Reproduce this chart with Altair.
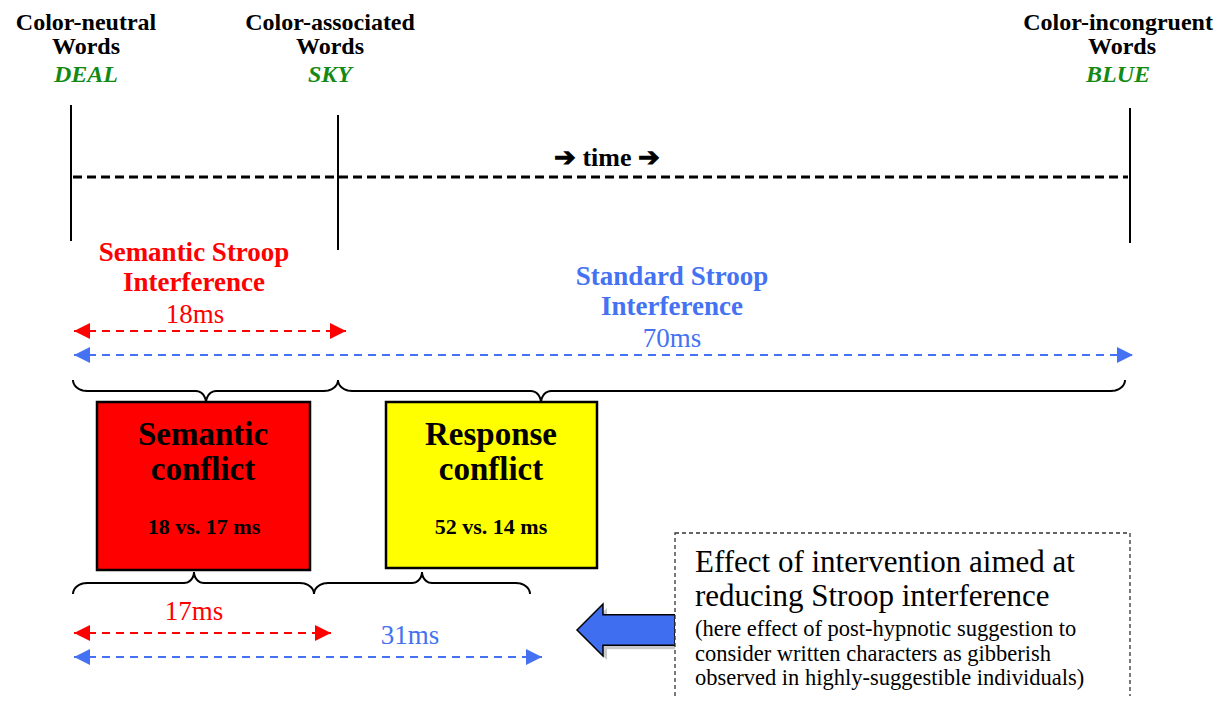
import math
import altair as alt
import pandas as pd

# ---------------- content (values & texts) ----------------
word_types = ["Color-neutral", "Color-associated", "Color-incongruent"]
word_examples = ["DEAL", "SKY", "BLUE"]
interference_titles = [["Semantic Stroop", "Interference"], ["Standard Stroop", "Interference"]]
interference_ms = [18, 70]          # before intervention
after_ms = [17, 31]                 # after intervention
conflict_titles = [["Semantic", "conflict"], ["Response", "conflict"]]
conflict_before = [18, 52]
conflict_after = [17, 14]
note_big = ["Effect of intervention aimed at", "reducing Stroop interference"]
note_small = ["(here effect of post-hypnotic suggestion to",
              "consider written characters as gibberish",
              "observed in highly-suggestible individuals)"]

# ---------------- layout (pixel space of the page) ----------------
W, H = 1214, 688
xs = alt.Scale(domain=[8, 8 + W], nice=False, zero=False)
ys = alt.Scale(domain=[8, 8 + H], nice=False, zero=False, reverse=True)

RED = "#ff0000"
BLUE = "#4472f2"
GREEN = "#138a13"
FONT = "Liberation Serif"

word_x = [86, 330, 1118]
event_x = [71, 338, 1130]
event_top = [105, 115, 108]
event_bot = [241, 250, 243]


def X(f="x"):
    return alt.X(f"{f}:Q", scale=xs, axis=None)


def Y(f="y"):
    return alt.Y(f"{f}:Q", scale=ys, axis=None)


def text_layer(rows, size, bold=True, italic=False, align="center", baseline="middle"):
    df = pd.DataFrame(rows, columns=["t", "x", "y", "c"])
    kw = dict(font=FONT, fontSize=size, align=align, baseline=baseline,
              fontWeight="bold" if bold else "normal")
    if italic:
        kw["fontStyle"] = "italic"
    return alt.Chart(df).mark_text(**kw).encode(
        x=X(), y=Y(), text="t:N", color=alt.Color("c:N", scale=None))


layers = []

# top word labels
layers.append(text_layer([(name, x, 30, "black") for name, x in zip(word_types, word_x)], 24,
                         baseline="alphabetic"))
layers.append(text_layer([("Words", x + (4 if x > 1000 else 0), 47, "black") for x in word_x], 24))
layers.append(text_layer([(ex, x, 75, GREEN) for ex, x in zip(word_examples, word_x)], 24, italic=True))

# event lines
ev = pd.DataFrame({"x": event_x, "y": event_top, "y2": event_bot})
layers.append(alt.Chart(ev).mark_rule(color="black", strokeWidth=2).encode(x=X(), y=Y(), y2="y2:Q"))

# time line
tl = pd.DataFrame({"x": [73], "x2": [1128], "y": [177]})
layers.append(alt.Chart(tl).mark_rule(color="black", strokeWidth=3, strokeDash=[9, 5]).encode(
    x=X(), x2="x2:Q", y=Y()))
layers.append(text_layer([("\u2794 time \u2794", 607, 158, "black")], 26))

# interference headings
layers.append(text_layer([
    (interference_titles[0][0], 194, 253, RED), (interference_titles[0][1], 194, 283, RED),
    (interference_titles[1][0], 672, 277, BLUE), (interference_titles[1][1], 672, 307, BLUE)], 27))
layers.append(text_layer([
    (f"{interference_ms[0]}ms", 195, 315, RED), (f"{interference_ms[1]}ms", 672, 339, BLUE),
    (f"{after_ms[0]}ms", 194, 612, RED), (f"{after_ms[1]}ms", 410, 636, BLUE)], 27, bold=False))

# dashed double arrows
arr = pd.DataFrame({
    "x": [74, 74, 74, 74], "x2": [346, 1133, 331, 542],
    "y": [331, 355, 633, 657], "c": [RED, BLUE, RED, BLUE]})
layers.append(alt.Chart(arr).mark_rule(strokeWidth=2.2, strokeDash=[8, 6]).encode(
    x=X(), x2="x2:Q", y=Y(), color=alt.Color("c:N", scale=None)))
heads = pd.DataFrame({
    "x": list(arr["x"] + 8) + list(arr["x2"] - 8),
    "y": list(arr["y"]) * 2,
    "c": list(arr["c"]) * 2,
    "s": ["M -1 0 L 1 -1 L 1 1 Z"] * 4 + ["M 1 0 L -1 -1 L -1 1 Z"] * 4})
layers.append(alt.Chart(heads).mark_point(filled=True, size=256, opacity=1, strokeWidth=0).encode(
    x=X(), y=Y(), color=alt.Color("c:N", scale=None), shape=alt.Shape("s:N", scale=None)))


# braces
def brace(bid, x0, x1, xt, ye, ym, yt, rx1=14, rx2=10):
    d = 1 if ym > ye else -1
    ry1, ry2 = abs(ym - ye), abs(yt - ym)
    pts = []
    n = 10
    for i in range(n + 1):
        t = math.pi / 2 * i / n
        pts.append((x0 + rx1 - rx1 * math.cos(t), ye + d * ry1 * math.sin(t)))
    for i in range(n + 1):
        t = math.pi / 2 * i / n
        pts.append((xt - rx2 + rx2 * math.sin(t), yt - d * ry2 * math.cos(t)))
    for i in range(n + 1):
        t = math.pi / 2 * i / n
        pts.append((xt + rx2 - rx2 * math.cos(t), yt - d * ry2 * math.sin(t)))
    for i in range(n + 1):
        t = math.pi / 2 * i / n
        pts.append((x1 - rx1 + rx1 * math.sin(t), ye + d * ry1 * math.cos(t)))
    return [{"b": bid, "i": k, "x": p[0], "y": p[1]} for k, p in enumerate(pts)]


br = []
br += brace("a", 73, 338, 206, 380, 391, 403)
br += brace("b", 338, 1125, 541, 380, 391, 403)
br += brace("c", 73, 314, 194, 594, 583, 572)
br += brace("d", 314, 530, 422, 594, 583, 572)
layers.append(alt.Chart(pd.DataFrame(br)).mark_line(color="black", strokeWidth=2).encode(
    x=X(), y=Y(), detail="b:N", order="i:Q"))

# conflict boxes
boxes = pd.DataFrame({"x": [97, 386], "x2": [310, 597], "y": [402, 402], "y2": [570, 568],
                      "c": [RED, "#ffff00"]})
layers.append(alt.Chart(boxes).mark_rect(stroke="black", strokeWidth=2.5).encode(
    x=X(), x2="x2:Q", y=Y(), y2="y2:Q", fill=alt.Fill("c:N", scale=None)))
rows = []
for (a, b), cx in zip(conflict_titles, [203, 491]):
    rows += [(a, cx, 435, "black"), (b, cx, 470, "black")]
layers.append(text_layer(rows, 33))
layers.append(text_layer([(f"{b} vs. {a} ms", cx, 527, "black")
                          for b, a, cx in zip(conflict_before, conflict_after, [204, 491])], 22))

# block arrow (shadow + arrow)
arrow_path = "M -1 0 L -0.47 -0.53 L -0.47 -0.31 L 1 -0.31 L 1 0.31 L -0.47 0.31 L -0.47 0.53 Z"
ba = pd.DataFrame({"x": [630, 626], "y": [634, 630], "c": ["#888888", "#3f6ff0"]})
layers.append(alt.Chart(ba.iloc[[0]]).mark_point(shape=arrow_path, size=49 * 49 * 4, filled=True,
                                                  strokeWidth=0).encode(
    x=X(), y=Y(), color=alt.Color("c:N", scale=None), opacity=alt.value(0.45)))
layers.append(alt.Chart(ba.iloc[[1]]).mark_point(shape=arrow_path, size=49 * 49 * 4, filled=True,
                                                  stroke="black", strokeWidth=1.5, opacity=1).encode(
    x=X(), y=Y(), fill=alt.Fill("c:N", scale=None)))

# dashed note box
nb = pd.DataFrame({"x": [675], "x2": [1130], "y": [533], "y2": [730]})
layers.append(alt.Chart(nb).mark_rect(fill="white", stroke="#333333", strokeWidth=1.3,
                                      strokeDash=[4, 3], clip=True).encode(
    x=X(), x2="x2:Q", y=Y(), y2="y2:Q"))
layers.append(text_layer([(t, 695, y, "black") for t, y in zip(note_big, [563, 597])], 31,
                         bold=False, align="left"))
layers.append(text_layer([(t, 695, y, "black") for t, y in zip(note_small, [629, 654, 678])], 22.5,
                         bold=False, align="left"))

chart = alt.layer(*layers).properties(width=W, height=H, padding=0, autosize="none").configure_view(
    stroke=None)
chart.save("out.html", embed_options={"renderer": "svg", "actions": False})
